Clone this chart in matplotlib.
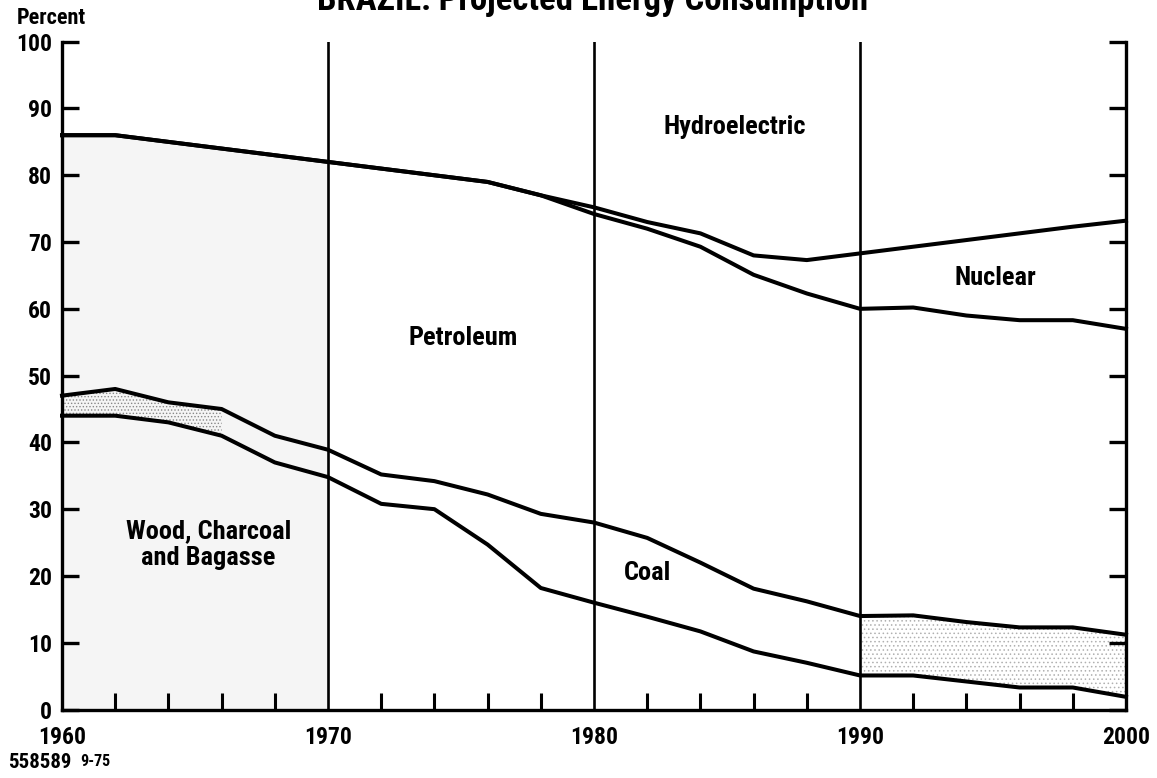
import matplotlib
matplotlib.use("Agg")
import matplotlib.pyplot as plt
import numpy as np

plt.rcParams['font.family'] = ['Roboto Condensed', 'Liberation Sans Narrow',
                               'Roboto', 'DejaVu Sans']
plt.rcParams['font.weight'] = 'bold'

# data (percent of total consumption, cumulative boundaries)
years = [1960, 1962, 1964, 1966, 1968, 1970, 1972, 1974, 1976, 1978, 1980,
         1982, 1984, 1986, 1988, 1990, 1992, 1994, 1996, 1998, 2000]
nuclear_top = [86, 86, 85, 84, 83, 82, 81, 80, 79, 77, 75.2,
               73, 71.3, 68, 67.3, 68.3, 69.3, 70.3, 71.3, 72.3, 73.2]
petroleum_top = [86, 86, 85, 84, 83, 82, 81, 80, 79, 77, 74.2,
                 72, 69.3, 65.1, 62.3, 60, 60.2, 59, 58.3, 58.3, 57]
coal_top = [47, 48, 46, 45, 41, 38.9, 35.2, 34.2, 32.2, 29.3, 28.0,
            25.7, 22, 18.1, 16.2, 14, 14.1, 13.1, 12.3, 12.3, 11.2]
wood_top = [44, 44, 43, 41, 37, 34.8, 30.8, 30.0, 24.7, 18.2, 16.0,
            13.9, 11.7, 8.7, 7, 5.1, 5.1, 4.2, 3.3, 3.3, 1.9]

decades = [1970, 1980, 1990]
minor_years = [y for y in range(1962, 2000, 2) if y % 10 != 0]

labels = {
    "Hydroelectric": (1985.3, 87.3),
    "Nuclear": (1995.1, 64.6),
    "Petroleum": (1975.1, 55.7),
    "Wood, Charcoal\nand Bagasse": (1965.5, 24.7),
    "Coal": (1982.0, 20.5),
}

fig = plt.figure(figsize=(11.57, 7.78), dpi=100)
ax = fig.add_axes([0.0536, 0.088, 0.9196, 0.8584])

yr = np.array(years)
# faint shading like the original's stippled areas
ax.fill_between(yr, 0, nuclear_top, where=yr <= 1970, color='#f5f5f5',
                linewidth=0)
plt.rcParams['hatch.linewidth'] = 0.6
ax.fill_between(yr, wood_top, coal_top, where=yr <= 1966,
                facecolor='none', edgecolor='#888888', hatch='.....',
                linewidth=0)
ax.fill_between(yr, wood_top, coal_top, where=yr >= 1990,
                facecolor='none', edgecolor='#b0b0b0', hatch='....',
                linewidth=0)

for series in [nuclear_top, petroleum_top, coal_top, wood_top]:
    ax.plot(years, series, color='black', lw=2.9, solid_joinstyle='round',
            clip_on=False)

for d in decades:
    ax.axvline(d, color='black', lw=1.9)

ax.set_xlim(1960, 2000)
ax.set_ylim(0, 100)

ax.spines['top'].set_visible(False)
for s in ['left', 'right', 'bottom']:
    ax.spines[s].set_linewidth(2.4)

ax.set_yticks(range(0, 101, 10))
ax.tick_params(axis='y', which='major', direction='in', length=12.5,
               width=2.4, labelsize=17, pad=7, right=True)
ax.set_xticks([1960, 1970, 1980, 1990, 2000])
ax.set_xticks(minor_years, minor=True)
ax.tick_params(axis='x', which='major', length=0, labelsize=17, pad=12)
ax.tick_params(axis='x', which='minor', direction='in', length=12.5,
               width=2.2)

for text, (x, y) in labels.items():
    ax.text(x, y, text, ha='center', va='center', fontsize=19,
            fontweight='bold', linespacing=1.1)

fig.text(0.512, 1 - 10 / 778, "BRAZIL: Projected Energy Consumption",
         ha='center', va='baseline', fontsize=25, fontweight='bold')
fig.text(17 / 1157, 1 - 18 / 778, "Percent", ha='left', va='center',
         fontsize=16, fontweight='bold')
fig.text(8 / 1157, 1 - 762 / 778, "558589", ha='left', va='center',
         fontsize=15, fontweight='bold')
fig.text(80 / 1157, 1 - 761 / 778, "9-75", ha='left', va='center',
         fontsize=11.5, fontweight='bold')

fig.savefig("out.png", dpi=100)
